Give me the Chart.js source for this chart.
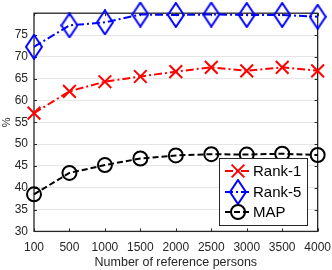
<!DOCTYPE html>
<html>
<head>
<meta charset="utf-8">
<script src="https://cdn.jsdelivr.net/npm/chart.js@4.4.1/dist/chart.umd.min.js"></script>
<style>
  html, body { margin: 0; padding: 0; background: #fff; }
</style>
</head>
<body>
<canvas id="chart" width="332" height="270"></canvas>
<script>
const refPersons = ["100", "500", "1000", "1500", "2000", "2500", "3000", "3500", "4000"];
const rank1 = [57.1, 62.1, 64.3, 65.5, 66.6, 67.6, 66.8, 67.6, 66.8];
const rank5 = [72.3, 77.2, 77.9, 79.7, 79.6, 79.7, 79.6, 79.6, 79.2];
const mapScores = [38.5, 43.4, 45.2, 46.7, 47.4, 47.7, 47.6, 47.8, 47.5];
const seriesNames = ["Rank-1", "Rank-5", "MAP"];

const FONT = "'Liberation Sans', Arial, Helvetica, sans-serif";
const AXIS = "#262626";

// matlab style diamond is taller than wide
function makeDiamond(color) {
  const c = document.createElement("canvas");
  c.width = 18; c.height = 26;
  const g = c.getContext("2d");
  g.strokeStyle = color;
  g.lineWidth = 2;
  g.beginPath();
  g.moveTo(9, 1); g.lineTo(17, 13); g.lineTo(9, 25); g.lineTo(1, 13);
  g.closePath();
  g.stroke();
  return c;
}
const diamond = makeDiamond("#0000ff");

const frame = {
  id: "frame",
  beforeDatasetsDraw(chart) {
    const { ctx, chartArea: a, scales } = chart;
    ctx.save();
    ctx.strokeStyle = AXIS;
    ctx.lineWidth = 1;
    ctx.beginPath();
    refPersons.forEach((_, i) => {
      const x = Math.round(scales.x.getPixelForValue(i)) + 0.5;
      ctx.moveTo(x, a.bottom); ctx.lineTo(x, a.bottom - 3);
      ctx.moveTo(x, a.top); ctx.lineTo(x, a.top + 3);
    });
    for (let v = 30; v <= 80; v += 5) {
      const y = Math.round(scales.y.getPixelForValue(v)) + 0.5;
      ctx.moveTo(a.left, y); ctx.lineTo(a.left + 3, y);
      ctx.moveTo(a.right, y); ctx.lineTo(a.right - 3, y);
    }
    ctx.stroke();
    ctx.lineWidth = 1.3;
    ctx.strokeRect(a.left, a.top, a.right - a.left, a.bottom - a.top);
    ctx.restore();
  }
};

const boxLegend = {
  id: "boxLegend",
  afterDraw(chart) {
    const ctx = chart.ctx;
    ctx.save();
    ctx.fillStyle = "#fff";
    ctx.fillRect(219, 158, 88, 67);
    ctx.strokeStyle = AXIS;
    ctx.lineWidth = 1;
    ctx.strokeRect(219.5, 158.5, 88, 67);
    const rows = [171, 192, 212];
    chart.data.datasets.forEach((ds, i) => {
      const y = rows[i];
      ctx.strokeStyle = ds.borderColor;
      ctx.lineWidth = 2;
      ctx.setLineDash(ds.borderDash);
      ctx.beginPath();
      ctx.moveTo(225, y); ctx.lineTo(251, y);
      ctx.stroke();
      ctx.setLineDash([]);
      ctx.fillStyle = "rgba(0,0,0,0)";
      Chart.helpers.drawPoint(ctx, {
        pointStyle: ds.pointStyle,
        radius: ds.pointRadius,
        borderWidth: 2,
        rotation: 0
      }, 238, y);
      ctx.fillStyle = "#000";
      ctx.font = "15px " + FONT;
      ctx.textBaseline = "middle";
      ctx.fillText(ds.label, 253, y + 1);
    });
    ctx.restore();
  }
};

new Chart(document.getElementById("chart"), {
  type: "line",
  data: {
    labels: refPersons,
    datasets: [
      {
        label: seriesNames[0], data: rank1,
        borderColor: "#ff0000", borderWidth: 2, borderDash: [8, 3, 2, 3],
        pointStyle: "crossRot", pointRadius: 9, pointBorderWidth: 2,
        pointBorderColor: "#ff0000", pointBackgroundColor: "rgba(0,0,0,0)"
      },
      {
        label: seriesNames[1], data: rank5,
        borderColor: "#0000ff", borderWidth: 2, borderDash: [8, 3, 2, 3],
        pointStyle: diamond, pointRadius: 9, pointBorderWidth: 2,
        pointBorderColor: "#0000ff", pointBackgroundColor: "rgba(0,0,0,0)"
      },
      {
        label: seriesNames[2], data: mapScores,
        borderColor: "#000000", borderWidth: 2, borderDash: [6, 3],
        pointStyle: "circle", pointRadius: 7, pointBorderWidth: 2,
        pointBorderColor: "#000000", pointBackgroundColor: "rgba(0,0,0,0)"
      }
    ]
  },
  options: {
    responsive: false,
    animation: false,
    devicePixelRatio: 1,
    clip: false,
    layout: { padding: { top: 12, right: 13, left: 0, bottom: 0 } },
    elements: { line: { tension: 0 } },
    plugins: { legend: { display: false }, tooltip: { enabled: false } },
    scales: {
      x: {
        type: "category",
        offset: false,
        grid: { display: false },
        border: { display: false },
        ticks: { color: AXIS, font: { family: FONT, size: 12 }, maxRotation: 0, autoSkip: false, padding: 1 },
        title: { display: true, text: "Number of reference persons", color: AXIS, font: { family: FONT, size: 12.5 }, padding: { top: 2, bottom: 0 } },
        afterFit: s => { s.height = 38.6; }
      },
      y: {
        min: 30, max: 80,
        grid: { color: "#e6e6e6", drawTicks: false },
        border: { display: false },
        ticks: {
          stepSize: 5, color: AXIS, font: { family: FONT, size: 12 }, padding: 6,
          callback: v => (v === 80 ? "" : v)
        },
        title: { display: true, text: "%", color: AXIS, font: { family: FONT, size: 11 }, padding: 0 },
        afterFit: s => { s.width = 34; }
      }
    }
  },
  plugins: [frame, boxLegend]
});
</script>
</body>
</html>
